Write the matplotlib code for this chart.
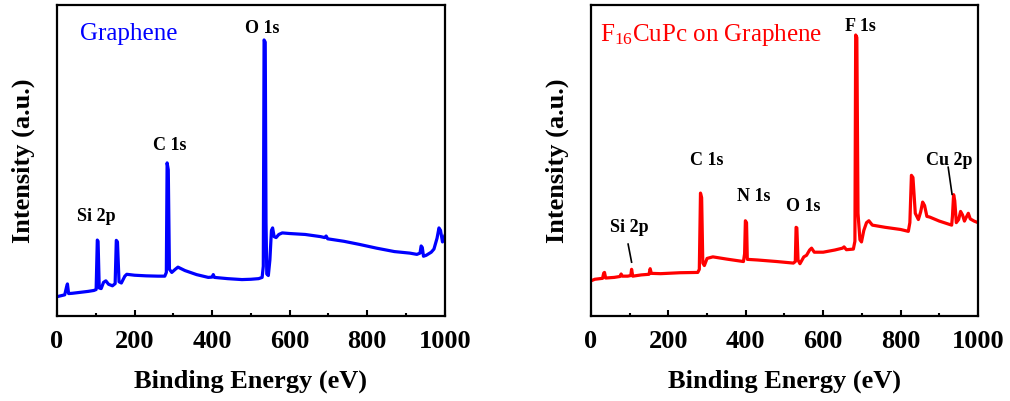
"""
XPS survey spectra: bare graphene vs. F16CuPc deposited on graphene.
Saves out.png (two panels side by side).
"""

import matplotlib
matplotlib.use("Agg")
import matplotlib.pyplot as plt
from matplotlib.ticker import MultipleLocator

plt.rcParams["font.family"] = ["Liberation Serif", "DejaVu Serif"]
plt.rcParams["mathtext.default"] = "regular"

# Graphene survey (binding energy in eV, intensity in a.u. scaled 0-1)
graphene_be = [0, 20, 25, 27, 30, 40, 60, 80, 95, 101, 104, 106, 109, 114, 120,
               126, 133, 143, 150, 153, 156, 160, 166, 175, 180, 200, 230, 260,
               278, 282, 284, 287, 290, 296, 305, 312, 330, 360, 390, 400, 403,
               406, 440, 477, 500, 520, 529, 532, 534, 537, 539, 541, 545, 549,
               553, 556, 560, 565, 572, 581, 600, 640, 680, 690, 694, 698, 740,
               780, 824, 870, 910, 928, 936, 939, 942, 945, 952, 965, 972, 980,
               985, 989, 994, 997, 1000]
graphene_int = [0.062, 0.068, 0.095, 0.103, 0.072, 0.073, 0.076, 0.079, 0.082,
                0.085, 0.244, 0.240, 0.090, 0.088, 0.108, 0.113, 0.102, 0.097,
                0.104, 0.243, 0.238, 0.110, 0.106, 0.128, 0.134, 0.131, 0.129,
                0.128, 0.128, 0.140, 0.492, 0.470, 0.150, 0.140, 0.150, 0.157,
                0.146, 0.133, 0.124, 0.125, 0.133, 0.124, 0.120, 0.117, 0.118,
                0.120, 0.124, 0.160, 0.887, 0.880, 0.300, 0.135, 0.130, 0.180,
                0.275, 0.283, 0.255, 0.252, 0.262, 0.267, 0.265, 0.262, 0.255,
                0.252, 0.257, 0.248, 0.240, 0.230, 0.218, 0.207, 0.202, 0.198,
                0.202, 0.225, 0.220, 0.192, 0.195, 0.205, 0.215, 0.250, 0.283,
                0.275, 0.238, 0.248, 0.258]

# F16CuPc on graphene survey
f16_be = [0, 10, 30, 33, 35, 38, 60, 75, 78, 81, 95, 103, 105, 108, 130, 150,
          153, 156, 180, 230, 276, 280, 283, 286, 289, 293, 300, 315, 350, 394,
          397, 399, 402, 404, 430, 480, 523, 528, 530, 532, 535, 540, 550, 557,
          565, 570, 577, 600, 630, 650, 654, 660, 678, 682, 684, 687, 690, 695,
          699, 705, 712, 718, 727, 760, 800, 820, 824, 828, 832, 838, 846, 852,
          857, 862, 868, 875, 900, 932, 934, 937, 940, 944, 950, 955, 960, 965,
          970, 975, 980, 990, 1000]
f16_int = [0.113, 0.118, 0.121, 0.138, 0.140, 0.122, 0.124, 0.127, 0.135, 0.128,
           0.128, 0.130, 0.150, 0.128, 0.132, 0.134, 0.152, 0.137, 0.136, 0.139,
           0.140, 0.150, 0.395, 0.380, 0.170, 0.162, 0.185, 0.190, 0.183, 0.175,
           0.200, 0.306, 0.300, 0.182, 0.180, 0.175, 0.170, 0.175, 0.285, 0.283,
           0.180, 0.168, 0.190, 0.195, 0.212, 0.218, 0.205, 0.205, 0.212, 0.218,
           0.222, 0.213, 0.215, 0.240, 0.903, 0.895, 0.330, 0.245, 0.238, 0.275,
           0.300, 0.306, 0.292, 0.285, 0.278, 0.272, 0.300, 0.452, 0.445, 0.330,
           0.310, 0.335, 0.366, 0.355, 0.320, 0.318, 0.305, 0.292, 0.320, 0.390,
           0.370, 0.300, 0.310, 0.336, 0.325, 0.305, 0.318, 0.330, 0.312, 0.305,
           0.300]

# peak labels: (text, energy, height)
graphene_labels = [("O 1s", 530, 0.925), ("C 1s", 291, 0.548), ("Si 2p", 101, 0.320)]
f16_labels = [("F 1s", 695, 0.930), ("C 1s", 298, 0.500), ("N 1s", 421, 0.385),
              ("O 1s", 548, 0.353), ("Si 2p", 99, 0.285), ("Cu 2p", 926, 0.500)]
# leader lines for the crowded labels: (x0, x1), (y0, y1)
f16_leaders = [((96, 105), (0.231, 0.173)), ((923, 933), (0.478, 0.391))]


def style_axes(ax):
    ax.set_xlim(0, 1000)
    ax.set_ylim(0, 1)
    ax.set_yticks([])
    ax.xaxis.set_major_locator(MultipleLocator(200))
    ax.xaxis.set_minor_locator(MultipleLocator(100))
    ax.tick_params(axis="x", which="major", direction="in", length=4, width=1.5,
                   labelsize=19, pad=10, top=False)
    ax.tick_params(axis="x", which="minor", direction="in", length=2, width=1.5,
                   top=False)
    for lbl in ax.get_xticklabels():
        lbl.set_fontweight("bold")
    for sp in ax.spines.values():
        sp.set_linewidth(1.6)
    ax.set_xlabel("Binding Energy (eV)", fontsize=19, fontweight="bold", labelpad=12)
    ax.set_ylabel("Intensity (a.u.)", fontsize=19, fontweight="bold", labelpad=16)


fig = plt.figure(figsize=(10.10, 4.01), dpi=100)
ax1 = fig.add_axes([0.0564, 0.2120, 0.3840, 0.7760])
ax2 = fig.add_axes([0.5851, 0.2120, 0.3832, 0.7760])

ax1.plot(graphene_be, graphene_int, color="#0000ff", lw=2.3)
ax1.text(60, 0.907, "Graphene", color="#0000ff", fontsize=18, va="center", ha="left")
for txt, x, y in graphene_labels:
    ax1.text(x, y, txt, fontsize=13, fontweight="bold", ha="center", va="center")
style_axes(ax1)

ax2.plot(f16_be, f16_int, color="#ff0000", lw=2.3)
ax2.text(23, 0.904, "F$_{16}$CuPc on Graphene", color="#ff0000", fontsize=18,
         va="center", ha="left")
for txt, x, y in f16_labels:
    ax2.text(x, y, txt, fontsize=13, fontweight="bold", ha="center", va="center")
for xs, ys in f16_leaders:
    ax2.plot(xs, ys, color="black", lw=1.2)
style_axes(ax2)

fig.savefig("out.png", dpi=100)
